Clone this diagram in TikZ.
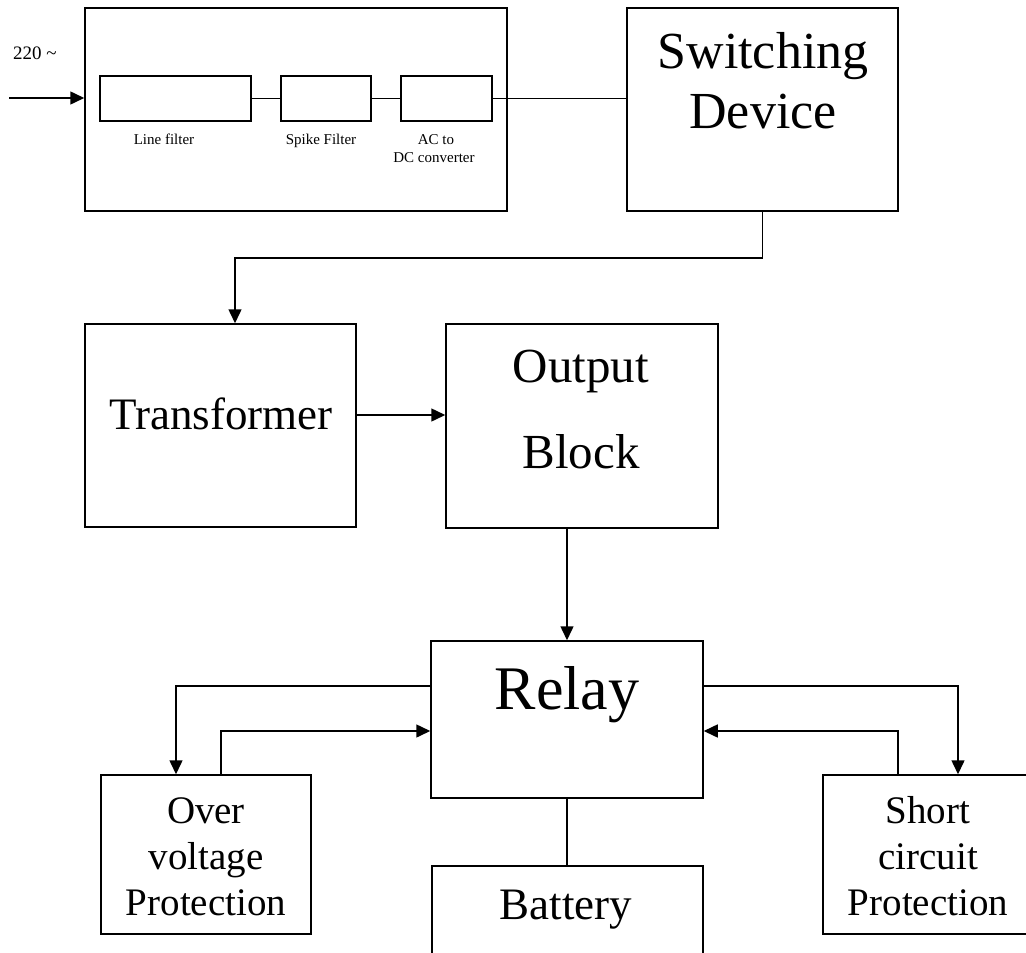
\documentclass[tikz,border=0pt]{standalone}
\usepackage{fontspec}
\setmainfont{Liberation Serif}
\usetikzlibrary{arrows.meta}
\newcommand{\fs}[1]{\fontsize{#1}{#1}\selectfont}
\begin{document}
\begin{tikzpicture}[x=1pt,y=-1pt,
  box/.style={draw,line width=1.5pt,rectangle,inner sep=0pt,fill=none},
  txt/.style={anchor=base,inner sep=0pt},
  ln/.style={line width=1.5pt},
  arr/.style={line width=1.5pt,-{Triangle[length=14pt,width=13pt]}}]
\clip (0,0) rectangle (1026,953);
\fill[white] (0,0) rectangle (1026,953);
% boxes
\node[box,minimum width=422pt,minimum height=203pt] (pre) at (296,109.5) {};
\node[box,minimum width=151pt,minimum height=45pt] (lf) at (175.5,98.5) {};
\node[box,minimum width=90pt,minimum height=45pt] (sf) at (326,98.5) {};
\node[box,minimum width=91pt,minimum height=45pt] (ac) at (446.5,98.5) {};
\node[box,minimum width=271pt,minimum height=203pt] (sw) at (762.5,109.5) {};
\node[box,minimum width=271pt,minimum height=203pt] (tr) at (220.5,425.5) {};
\node[box,minimum width=272pt,minimum height=204pt] (ob) at (582,426) {};
\node[box,minimum width=272pt,minimum height=157pt] (re) at (567,719.5) {};
\node[box,minimum width=210pt,minimum height=159pt] (ov) at (206,854.5) {};
\node[box,minimum width=230pt,minimum height=159pt] (sc) at (938,854.5) {};
\node[box,minimum width=271pt,minimum height=134pt] (ba) at (567.5,933) {};
% texts
\node[txt,anchor=base west,font=\fs{19}] (t220) at (13,59) {220 \textasciitilde};
\node[txt,font=\fs{15}] (tlf) at (164,144) {Line filter};
\node[txt,font=\fs{15}] (tsf) at (321,144) {Spike Filter};
\node[txt,font=\fs{15}] (tac1) at (436,144) {AC to};
\node[txt,font=\fs{15}] (tac2) at (434,162) {DC converter};
\node[txt,font=\fs{52}] (tsw1) at (763,68) {Switching};
\node[txt,font=\fs{52}] (tsw2) at (763,128) {Device};
\node[txt,font=\fs{45}] (ttr) at (221,429) {Transformer};
\node[txt,font=\fs{49}] (tob1) at (581,382) {Output};
\node[txt,font=\fs{49}] (tob2) at (581,468) {Block};
\node[txt,font=\fs{62}] (tre) at (567,709) {Relay};
\node[txt,font=\fs{39}] (tov1) at (206,823) {Over};
\node[txt,font=\fs{39}] (tov2) at (206,869) {voltage};
\node[txt,font=\fs{39}] (tov3) at (206,915) {Protection};
\node[txt,font=\fs{39}] (tsc1) at (928,823) {Short};
\node[txt,font=\fs{39}] (tsc2) at (928,869) {circuit};
\node[txt,font=\fs{39}] (tsc3) at (928,915) {Protection};
\node[txt,font=\fs{45}] (tba) at (566,919) {Battery};
% connectors
\coordinate (inS) at (9,98);
\draw[arr] (inS) -- (inS -| pre.west);
\draw[ln] (lf.east) -- (sf.west);
\draw[ln] (sf.east) -- (ac.west);
\draw[ln] (ac.east) -- (ac.east -| sw.west);
\draw[arr] (sw.south) -- ++(0,46) -| ([xshift=14.5pt]tr.north);
\draw[arr] ([yshift=10.5pt]tr.east) -- ([yshift=10.5pt]tr.east -| ob.west);
\draw[arr] (re.north |- ob.south) -- (re.north);
\draw[arr] ([yshift=33.5pt]re.west) -| ([xshift=-30pt]ov.north);
\draw[arr] ([xshift=15pt]ov.north) |- ([yshift=-11.5pt]re.west);
\draw[arr] ([yshift=33.5pt]re.east) -| ([xshift=20pt]sc.north);
\draw[arr] ([xshift=-40pt]sc.north) |- ([yshift=-11.5pt]re.east);
\draw[ln] (re.south) -- (re.south |- ba.north);
\end{tikzpicture}
\end{document}
